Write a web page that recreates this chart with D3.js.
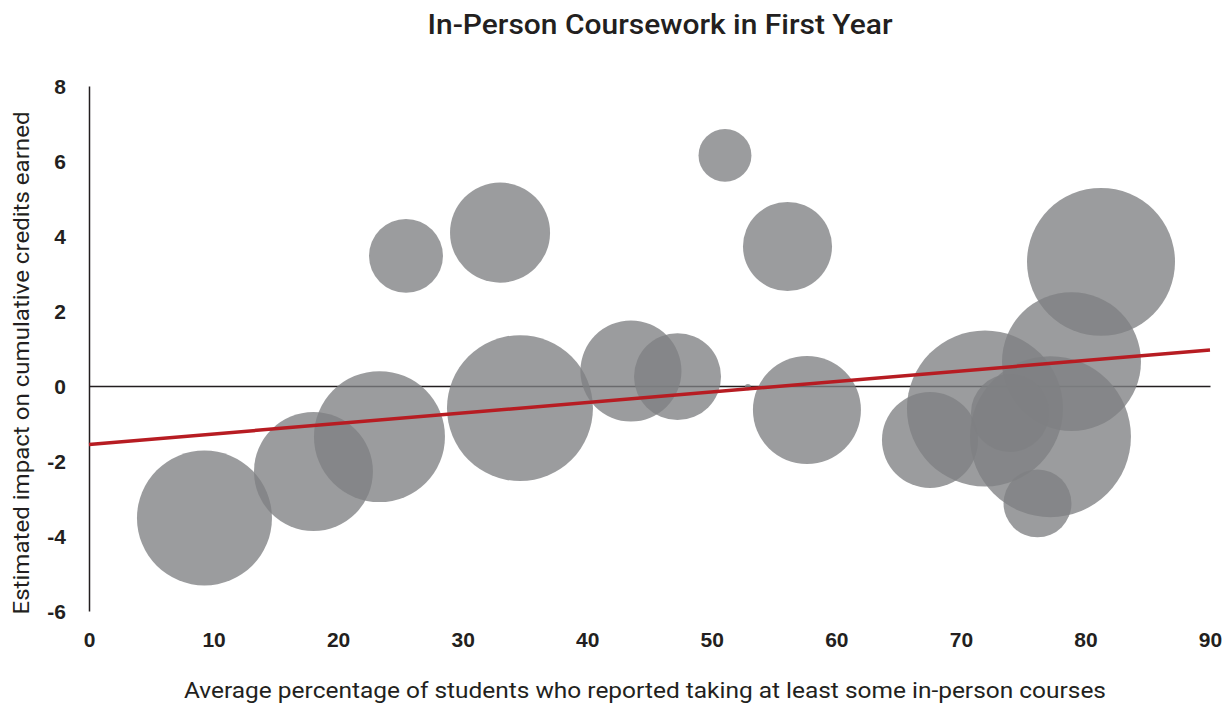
<!DOCTYPE html>
<html>
<head>
<meta charset="utf-8">
<script src="https://cdn.jsdelivr.net/npm/d3@7"></script>
<style>
  body { margin: 0; background: #fff; }
  svg { font-family: Roboto, "Noto Sans", sans-serif; }
  .tick text { font-size: 21px; font-weight: 700; fill: #231f20; }
</style>
</head>
<body>
<svg id="chart" width="1231" height="709"></svg>
<script>
// bubble data
const pctInPerson = [9.27, 18.02, 23.32, 25.45, 33.0, 34.6, 43.51, 47.25, 51.06, 56.08, 57.64, 52.9, 81.25, 78.88, 77.19, 71.93, 67.52, 73.94, 76.15];
const creditImpact = [-3.52, -2.28, -1.35, 3.47, 4.09, -0.59, 0.40, 0.25, 6.15, 3.72, -0.64, -0.03, 3.31, 0.65, -1.35, -0.60, -1.44, -0.72, -3.13];
const bubbleWeight = [70.3, 54.6, 66.2, 21.1, 38.6, 82.2, 39.4, 29.2, 10.8, 30.6, 45.0, 0.14, 84.5, 74.5, 100, 93.9, 35.6, 23.5, 17.8];

// linear trend line ends
const trendX = [0, 90];
const trendY = [-1.56, 0.96];

const xTicks = [0, 10, 20, 30, 40, 50, 60, 70, 80, 90];
const yTicks = [-6, -4, -2, 0, 2, 4, 6, 8];

const points = pctInPerson.map(function(d, i) {
  return { x: d, y: creditImpact[i], w: bubbleWeight[i] };
});

document.addEventListener('DOMContentLoaded', function () {
  drawChart();
});

function drawChart() {
  const svg = d3.select('#chart');

  const x = d3.scaleLinear().domain([0, 90]).range([89, 1210]);
  const y = d3.scaleLinear().domain([-6, 8]).range([611, 86]);
  const r = d3.scaleSqrt().domain([0, 100]).range([0, 80.5]);

  // plain hyphen for negatives, like the original
  const fmt = d => String(d);

  // zero line (drawn under the bubbles)
  svg.append('g')
    .attr('transform', 'translate(0,' + y(0) + ')')
    .call(d3.axisBottom(x).tickValues([]).tickSizeOuter(0))
    .call(g => g.select('.domain').attr('stroke', '#231f20').attr('stroke-width', 1.5));

  // y axis
  const yAxis = svg.append('g')
    .attr('transform', 'translate(' + x(0) + ',0)')
    .call(d3.axisLeft(y).tickValues(yTicks).tickFormat(fmt).tickSize(0).tickSizeOuter(0).tickPadding(23));
  yAxis.select('.domain').attr('stroke', '#231f20').attr('stroke-width', 1.5);
  yAxis.selectAll('.tick text').attr('dy', '0.35em');

  // x tick labels along the bottom
  const xAxis = svg.append('g')
    .attr('transform', 'translate(0,' + y(-6) + ')')
    .call(d3.axisBottom(x).tickValues(xTicks).tickFormat(fmt).tickSize(0).tickPadding(21));
  xAxis.select('.domain').remove();

  // bubbles
  svg.append('g')
    .selectAll('circle')
    .data(points)
    .join('circle')
    .attr('cx', d => x(d.x))
    .attr('cy', d => y(d.y))
    .attr('r', d => r(d.w))
    .attr('fill', '#7f8083')
    .attr('fill-opacity', 0.78);

  // trend line
  svg.append('path')
    .datum(trendX.map((d, i) => [d, trendY[i]]))
    .attr('fill', 'none')
    .attr('stroke', '#b71c22')
    .attr('stroke-width', 3.5)
    .attr('d', d3.line().x(d => x(d[0])).y(d => y(d[1])));

  // title
  svg.append('text')
    .attr('x', 660)
    .attr('y', 34)
    .attr('text-anchor', 'middle')
    .attr('font-size', 27)
    .attr('font-weight', 500)
    .attr('fill', '#231f20')
    .attr('textLength', 465)
    .attr('lengthAdjust', 'spacingAndGlyphs')
    .text('In-Person Coursework in First Year');

  // x axis label
  svg.append('text')
    .attr('x', 645)
    .attr('y', 698)
    .attr('text-anchor', 'middle')
    .attr('font-size', 22)
    .attr('fill', '#231f20')
    .attr('textLength', 922)
    .attr('lengthAdjust', 'spacingAndGlyphs')
    .text('Average percentage of students who reported taking at least some in-person courses');

  // y axis label
  svg.append('text')
    .attr('transform', 'rotate(-90)')
    .attr('x', -363)
    .attr('y', 29)
    .attr('text-anchor', 'middle')
    .attr('font-size', 22)
    .attr('fill', '#231f20')
    .attr('textLength', 503)
    .attr('lengthAdjust', 'spacingAndGlyphs')
    .text('Estimated impact on cumulative credits earned');
}
</script>
</body>
</html>
